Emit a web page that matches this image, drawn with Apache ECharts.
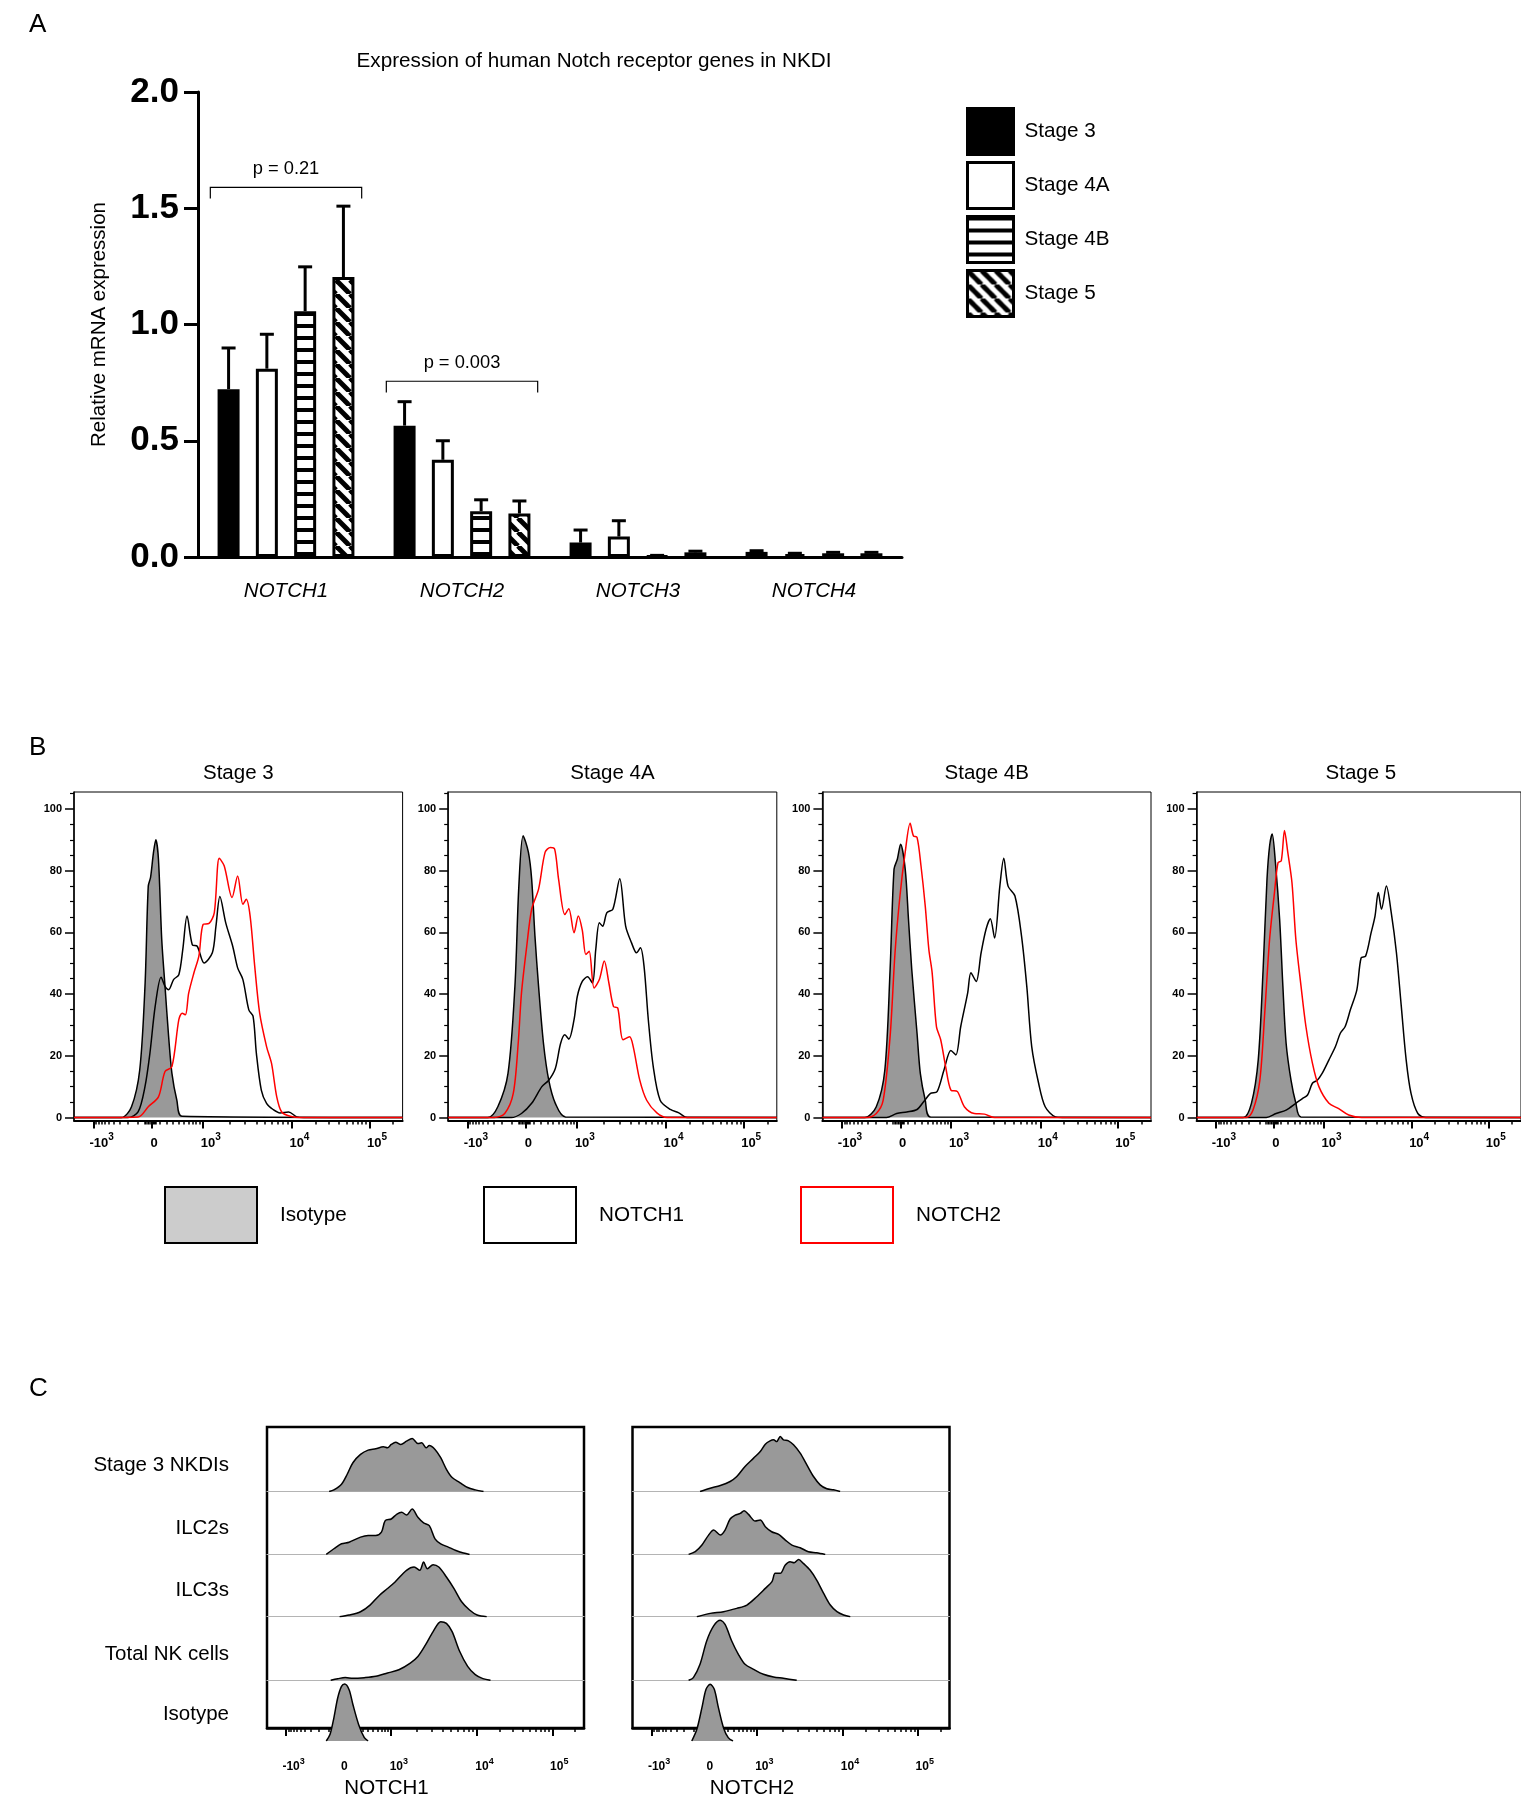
<!DOCTYPE html>
<html>
<head>
<meta charset="utf-8">
<script src="https://cdn.jsdelivr.net/npm/echarts@6/dist/echarts.min.js"></script>
<style>
  html, body { margin: 0; padding: 0; background: #fff; }
  #chart { width: 1521px; height: 1800px; }
</style>
</head>
<body>
<div id="chart"></div>
<script>
// ---- panel A : qPCR bars ----
const genes = ['NOTCH1', 'NOTCH2', 'NOTCH3', 'NOTCH4'];
const stages = ['Stage 3', 'Stage 4A', 'Stage 4B', 'Stage 5'];
const meanStage3 = [0.722, 0.565, 0.062, 0.022];
const meanStage4A = [0.81, 0.418, 0.088, 0.012];
const meanStage4B = [1.057, 0.197, 0.005, 0.016];
const meanStage5 = [1.204, 0.187, 0.02, 0.016];
const semStage3 = [0.177, 0.103, 0.054, 0.005];
const semStage4A = [0.148, 0.082, 0.068, 0.004];
const semStage4B = [0.191, 0.049, 0.002, 0.004];
const semStage5 = [0.305, 0.054, 0.005, 0.004];
const bracketGene = [0, 1];
const bracketY = [1.59, 0.756];
const bracketText = ['p = 0.21', 'p = 0.003'];

// ---- panels B/C : flow axis (display %, biexponential) ----
const xLabelText = [['-10', '3'], ['0', ''], ['10', '3'], ['10', '4'], ['10', '5']];
const xLabelPos = [8.4, 24.4, 41.6, 68.6, 92.2];
const majorTickVals = [-1000, 0, 1000, 10000, 100000];
const minorTickVals = [-900, -800, -700, -600, -500, -400, -300, -200, -100,
  -50, -40, -30, -20, -10, 10, 20, 30, 40, 50,
  100, 200, 300, 400, 500, 600, 700, 800, 900,
  2000, 3000, 4000, 5000, 6000, 7000, 8000, 9000,
  20000, 30000, 40000, 50000, 60000, 70000, 80000, 90000, 200000];
const yLabelVals = [0, 20, 40, 60, 80, 100];
const yMinorVals = [5, 10, 15, 25, 30, 35, 45, 50, 55, 65, 70, 75, 85, 90, 95, 105];

// ---- panel B : histograms [display %, % of max] ----
const isoStage3 = [[14.4,0],[17.5,3.5],[20.0,15.4],[21.6,42.5],[22.6,75],[23.3,77.8],[24.2,86],[24.9,90],[25.7,83.7],[26.7,57.7],[27.7,42.5],[28.8,26.2],[29.8,14.3],[31.3,5.6],[32.9,0.4]];
const n1Stage3 = [[16.4,0],[19.5,1.8],[21.6,10],[23.1,20.8],[24.7,36],[26.5,45.5],[27.7,42.5],[28.8,41.4],[30.3,44.7],[31.9,46.3],[33.1,54.4],[34.4,65.3],[36.0,56],[37.5,55.5],[39.6,50.1],[42.1,53.4],[43.2,62],[44.4,71.6],[46.2,63],[48.3,55.5],[49.8,48.5],[51.4,44.7],[53.2,34.9],[54.5,32.8],[55.5,20.8],[57.0,8.9],[58.6,4.6],[60.6,2.6],[62.7,1.5],[65.3,1.8],[67.8,0.2],[69.9,0]];
const n2Stage3 = [[19.5,0.2],[22.6,3.5],[25.7,6.7],[27.7,14.9],[29.8,16.5],[31.9,31.7],[32.9,33.8],[33.9,33.3],[34.9,40.3],[36.5,46.9],[38.0,52.3],[39.3,62.6],[41.1,62.9],[42.7,66.4],[44.2,84],[45.7,81.6],[48.1,71.3],[49.8,78.3],[51.4,69.1],[52.4,70.7],[53.6,65.3],[55.0,49],[56.5,33.8],[58.6,23],[60.1,17.6],[61.7,6.7],[63.2,1.8],[65.8,0.4],[68.9,0]];
const isoStage4A = [[12.0,0],[15.1,3.5],[18.2,14.3],[20.3,42.5],[21.5,75],[22.8,91.3],[24.4,86],[25.4,77.2],[26.4,58.8],[27.5,42.5],[29.0,24],[30.6,12.1],[32.6,4.6],[35.7,0.2]];
const n1Stage4A = [[19.2,0],[22.3,1.3],[25.4,4.6],[28.5,10],[30.6,12.1],[32.6,15.9],[34.2,24],[35.5,26.8],[36.7,25.4],[38.3,31.7],[39.3,39.3],[40.8,44.1],[42.4,45.6],[43.9,43.6],[44.9,54.4],[46.0,63.1],[47.0,62],[48.3,66.4],[50.1,67.5],[52.2,77.4],[54.0,62],[55.8,56.6],[57.3,53.4],[58.5,55],[59.6,49],[60.9,31.7],[62.4,16.5],[64.5,5.6],[67.6,2.6],[70.2,1.5],[72.7,0]];
const n2Stage4A = [[14.1,0],[17.2,1.3],[19.8,7.8],[21.3,24],[22.3,40.3],[23.9,55.5],[25.4,67.5],[27.5,74],[29.5,86],[31.1,87.5],[32.4,87],[33.6,77.2],[35.5,65.8],[36.7,67.7],[38.3,59.9],[39.6,65.3],[40.8,60.7],[41.9,52.8],[42.9,53.9],[44.4,42],[46.0,44.7],[47.5,50.7],[48.9,43.6],[50.3,36],[51.6,35.5],[53.2,25.2],[55.2,26.2],[56.3,23],[58.3,12.1],[60.4,5.6],[63.5,1.5],[66.6,0]];
const isoStage4B = [[12.8,0],[16.4,3.5],[19.0,15.4],[20.6,47.9],[21.8,80.5],[22.8,83.7],[23.8,88.6],[25.2,80.5],[26.2,64.2],[27.2,47.9],[28.8,27.3],[29.8,14.3],[31.3,5.6],[32.9,0.2]];
const n1Stage4B = [[19.5,0],[22.6,1.3],[25.7,1.8],[28.8,2.6],[30.8,5.1],[32.9,7.8],[34.9,8.4],[37.0,15.4],[39.1,21.7],[40.6,20.3],[42.1,29.5],[44.2,40.3],[45.2,46.9],[46.8,44.1],[48.3,53.4],[49.8,61],[51.1,64.4],[52.4,58.2],[54.0,75],[55.2,84],[56.5,75],[58.6,71.8],[60.6,58.8],[62.2,42.5],[63.7,23],[65.8,11.1],[67.8,3.5],[70.9,0.2],[73.0,0]];
const n2Stage4B = [[13.4,0],[16.4,1.3],[18.5,5.6],[20.6,26.2],[22.1,53.4],[23.6,71.8],[25.2,86],[26.7,95.4],[27.7,91.3],[28.8,90.8],[30.0,81.6],[31.3,68.5],[32.4,54.4],[33.4,46.9],[34.7,29.5],[36.0,25.2],[37.5,16.5],[39.1,8.9],[41.1,8.4],[43.2,3.5],[46.2,1.3],[49.3,1.1],[52.4,0]];
const isoStage5 = [[14.4,0],[16.9,4.6],[19.0,18.7],[20.5,47.9],[21.7,77.2],[22.5,88],[23.3,91.9],[24.3,82.6],[25.6,64.2],[26.6,42.5],[27.6,24],[29.1,12.1],[30.6,4.6],[32.2,0.2]];
const n1Stage5 = [[21.5,0],[24.5,1.3],[27.6,2.4],[30.6,4.6],[32.7,6.2],[34.2,7.3],[35.7,11.1],[37.2,12.1],[38.7,14.3],[40.8,18.7],[42.8,23],[44.3,27.3],[45.8,29.5],[47.4,34.9],[49.4,41.4],[50.7,51.7],[52.1,52.3],[53.8,59.9],[55.0,65.3],[56.0,72.9],[57.0,67.5],[58.5,75],[60.0,66.4],[61.6,53.4],[63.1,36],[64.6,18.7],[66.1,7.8],[68.2,1.3],[70.7,0]];
const n2Stage5 = [[15.4,0],[17.4,2.4],[19.5,12.1],[21.0,33.8],[22.5,57.7],[24.0,72.9],[25.1,82.6],[26.1,83.2],[27.1,93],[28.1,86],[29.4,76.1],[30.6,57.7],[32.2,42.5],[33.7,29.5],[35.7,17.6],[37.7,10],[40.8,4.6],[43.8,2.9],[46.9,0.8],[50.9,0]];

// ---- panel C : stacked histograms ----
const rowLabels = ['Stage 3 NKDIs', 'ILC2s', 'ILC3s', 'Total NK cells', 'Isotype'];
const c1Stage3 = [[19.6,0],[21.1,2.6],[23.5,11.6],[25.3,27.5],[27.1,45.9],[29.5,59.1],[31.9,66],[34.3,68.1],[36.7,71.3],[38.0,69.7],[39.2,75],[40.6,78.7],[42.2,75],[44.0,80.3],[45.8,84.5],[47.6,76.6],[48.8,77.6],[50.2,69.7],[51.2,73.4],[53.0,67.1],[54.8,53.9],[56.6,35.4],[58.4,22.2],[60.8,14.3],[63.3,6.3],[65.7,2.6],[68.3,0]];
const c1ILC2 = [[18.7,0],[21.1,9],[23.5,16.9],[25.9,19.5],[29.5,27.5],[31.9,30.1],[34.3,30.1],[36.1,35.4],[37.3,53.9],[39.2,56.5],[41.0,64.4],[42.5,67.1],[44.0,62.8],[45.8,72.3],[47.6,59.1],[49.4,50.2],[51.2,45.9],[53.0,24.8],[54.8,16.9],[57.2,11.6],[59.6,6.3],[62.0,2.1],[63.9,0]];
const c1ILC3 = [[22.9,0],[25.9,2.6],[29.5,7.9],[32.5,18.5],[35.5,34.3],[38.0,44.9],[40.4,55.4],[44.0,73.9],[46.4,79.2],[48.2,73.9],[49.4,87.1],[50.6,76.6],[52.4,82.9],[54.2,79.2],[56.6,63.4],[59.0,44.9],[61.4,23.8],[63.9,10.6],[66.3,2.6],[69.3,0]];
const c1NK = [[20.1,0],[22.3,2.5],[24.7,4.5],[27.1,3.2],[30.7,4.2],[34.3,6.3],[38.0,11.6],[41.6,16.9],[45.2,27.5],[47.6,38],[50.0,56.5],[52.4,77.6],[54.8,93.5],[56.6,90.8],[58.4,77.6],[60.8,45.9],[63.3,22.2],[65.7,9],[68.1,2.6],[70.5,0]];
const c1Iso = [[18.7,0],[19.9,10.6],[21.1,37],[22.3,68.6],[23.5,87.1],[24.5,90.8],[25.9,81.8],[27.1,58.1],[28.9,26.4],[30.7,5.3],[31.9,0]];
const c2Stage3 = [[21.3,0],[24.5,5.3],[27.7,9.6],[30.8,16],[32.9,23.9],[35.5,39.9],[38.2,53.2],[40.3,63.8],[41.9,75.5],[43.4,80.8],[44.5,82.4],[45.5,79.7],[46.6,87.7],[47.6,82.4],[49.2,80.8],[50.8,74.4],[52.9,61.1],[55.0,42.5],[57.1,23.9],[59.2,10.6],[61.3,4.3],[63.4,2.7],[65.5,0]];
const c2ILC2 = [[17.7,0],[19.8,4.3],[21.9,14.9],[24.0,30.8],[25.6,38.8],[27.7,30.8],[29.2,38.8],[30.8,56.4],[32.4,62.7],[34.0,65.4],[35.2,69.6],[36.6,63.8],[38.7,53.2],[40.3,54.8],[41.9,44.1],[43.9,36.1],[46.1,31.9],[48.2,22.9],[50.3,14.9],[52.9,10.6],[55.5,4.3],[58.1,2.7],[60.8,0]];
const c2ILC3 = [[20.3,0],[24.5,5.3],[28.7,8],[32.9,13.3],[36.1,18.6],[39.2,31.9],[41.9,45.2],[44.0,55.8],[45.0,69.1],[46.6,69.1],[48.2,82.4],[49.7,87.7],[51.0,86],[52.4,91.3],[53.9,85],[56.0,74.4],[58.1,58.5],[60.3,37.2],[62.4,18.6],[64.5,8],[66.6,2.7],[68.7,0]];
const c2NK = [[17.7,0],[19.2,4.3],[21.3,25.5],[23.4,62.7],[25.6,86.7],[27.7,95.7],[29.2,89.3],[31.3,62.7],[33.4,41.5],[35.5,25.5],[38.2,17.5],[41.3,9.6],[44.5,5.3],[47.6,3.2],[51.8,0]];
const c2Iso = [[18.7,0],[20.3,18.6],[21.9,53.2],[23.2,82.4],[24.5,90.4],[25.8,82.4],[27.1,53.2],[28.7,21.3],[30.2,5.3],[31.7,0]];

const FONT = '"Liberation Sans", Arial, sans-serif';
const chart = echarts.init(document.getElementById('chart'));

// where a fluorescence value sits on the display axis (for tick marks only)
const scaleAnchors = [[-1000, 6.0], [0, 23.7], [1000, 39.1], [10000, 66.3], [100000, 90.0]];
function scalePos(v) {
  if (v >= 1000) {
    const d = Math.log10(v);
    const i = Math.min(Math.floor(d) - 3, 1);
    const a = scaleAnchors[2 + i], b = scaleAnchors[3 + i];
    return a[1] + (b[1] - a[1]) * (d - Math.log10(a[0])) / (Math.log10(b[0]) - Math.log10(a[0]));
  }
  const w = v >= 0 ? 400 : 150;
  const span = v >= 0 ? 39.1 - 23.7 : 23.7 - 6.0;
  return 23.7 + Math.sign(v) * span * Math.asinh(Math.abs(v) / w) / Math.asinh(1000 / w);
}

// bar fills
function pattern(diag) {
  const s = diag ? 14 : 12;
  const c = document.createElement('canvas');
  c.width = s; c.height = s;
  const g = c.getContext('2d');
  g.fillStyle = '#fff';
  g.fillRect(0, 0, s, s);
  if (!diag) {
    g.fillStyle = '#000';
    g.fillRect(0, 0, s, 4);
  } else {
    g.strokeStyle = '#000';
    g.lineWidth = 5;
    [-s, 0, s].forEach(k => { g.beginPath(); g.moveTo(k, 0); g.lineTo(k + s, s); g.stroke(); });
  }
  return { image: c, repeat: 'repeat' };
}
const barFills = ['#000', '#fff', pattern(false), pattern(true)];
const means = [meanStage3, meanStage4A, meanStage4B, meanStage5];
const sems = [semStage3, semStage4A, semStage4B, semStage5];
const barW = 22, barGapRatio = 0.74;
const barPitch = barW * (1 + barGapRatio);

const grids = [], xAxes = [], yAxes = [], series = [], titles = [];

// ---------- A ----------
grids.push({ left: 198, top: 92, width: 704, height: 465 });
xAxes.push({
  type: 'category', gridIndex: 0, data: genes,
  axisLine: { lineStyle: { color: '#000', width: 3 } },
  axisTick: { alignWithLabel: true, length: 14, lineStyle: { color: '#000', width: 3 } },
  axisLabel: { margin: 24, fontSize: 20.5, fontStyle: 'italic', color: '#000', fontFamily: FONT }
});
yAxes.push({
  type: 'value', gridIndex: 0, min: 0, max: 2, interval: 0.5,
  name: 'Relative mRNA expression', nameLocation: 'middle', nameGap: 88,
  nameTextStyle: { fontSize: 20.5, color: '#000', fontFamily: FONT },
  axisLine: { show: true, lineStyle: { color: '#000', width: 3 } },
  axisTick: { show: true, length: 14, lineStyle: { color: '#000', width: 3 } },
  axisLabel: { formatter: v => v.toFixed(1), fontSize: 35, fontWeight: 'bold', color: '#000', margin: 19, fontFamily: FONT },
  splitLine: { show: false }
});
stages.forEach((st, i) => {
  series.push({
    type: 'bar', name: st, xAxisIndex: 0, yAxisIndex: 0, data: means[i],
    barWidth: barW, barGap: (barGapRatio * 100) + '%',
    itemStyle: { color: barFills[i], borderColor: '#000', borderWidth: 3 },
    emphasis: { disabled: true }
  });
  series.push({
    type: 'custom', name: 'sem ' + st, xAxisIndex: 0, yAxisIndex: 0,
    data: genes.map((g, j) => [j, means[i][j], means[i][j] + sems[i][j]]),
    z: 3,
    renderItem: (params, api) => {
      const base = api.coord([api.value(0), api.value(1)]);
      const top = api.coord([api.value(0), api.value(2)]);
      const x = base[0] + (i - 1.5) * barPitch;
      return {
        type: 'group', children: [
          { type: 'line', shape: { x1: x, y1: base[1], x2: x, y2: top[1] }, style: { stroke: '#000', lineWidth: 3 } },
          { type: 'line', shape: { x1: x - 7, y1: top[1], x2: x + 7, y2: top[1] }, style: { stroke: '#000', lineWidth: 3 } }
        ]
      };
    }
  });
});
series.push({
  type: 'custom', name: 'brackets', xAxisIndex: 0, yAxisIndex: 0,
  data: bracketGene.map((g, k) => [g, bracketY[k], k]),
  renderItem: (params, api) => {
    const c = api.coord([api.value(0), api.value(1)]);
    const half = api.size([1, 0])[0] * 0.43;
    const drop = api.size([0, 0.048])[1];
    return {
      type: 'group', children: [
        { type: 'polyline', shape: { points: [[c[0] - half, c[1] + drop], [c[0] - half, c[1]], [c[0] + half, c[1]], [c[0] + half, c[1] + drop]] },
          style: { stroke: '#000', lineWidth: 1.2, fill: null } },
        { type: 'text', style: { text: bracketText[api.value(2)], x: c[0], y: c[1] - 9, textAlign: 'center', textVerticalAlign: 'bottom',
          font: '18.3px ' + FONT, fill: '#000' } }
      ]
    };
  }
});

// ---------- shared flow axes ----------
function tickRich(size) {
  return {
    b: { fontSize: size, fontWeight: 'bold', lineHeight: size + 2, verticalAlign: 'bottom', color: '#000', fontFamily: FONT },
    s: { fontSize: size - 3, fontWeight: 'bold', lineHeight: size - 2, padding: [0, 0, 7, 0], verticalAlign: 'bottom', color: '#000', fontFamily: FONT }
  };
}
function fmtTick(v) {
  const t = xLabelText[xLabelPos.indexOf(v)];
  return t[1] ? '{b|' + t[0] + '}{s|' + t[1] + '}' : '{b|' + t[0] + '}';
}
function flowXAxes(gi, size, lineW, padTop, extra) {
  xAxes.push(Object.assign({
    type: 'value', gridIndex: gi, min: 0, max: 100, position: 'bottom',
    axisLine: { show: true, onZero: false, lineStyle: { color: '#000', width: lineW } },
    axisTick: { show: true, customValues: majorTickVals.map(scalePos), length: 8, lineStyle: { color: '#000', width: 2 } },
    axisLabel: { customValues: xLabelPos, formatter: fmtTick, margin: 10, padding: [padTop, 0, 0, 0], rich: tickRich(size) },
    splitLine: { show: false }
  }, extra || {}));
  xAxes.push({
    type: 'value', gridIndex: gi, min: 0, max: 100, position: 'bottom',
    axisLine: { show: false, onZero: false },
    axisTick: { show: true, customValues: minorTickVals.map(scalePos), length: 4, lineStyle: { color: '#000', width: 1.5 } },
    axisLabel: { show: false }, splitLine: { show: false }
  });
}

// ---------- B ----------
const histIso = [isoStage3, isoStage4A, isoStage4B, isoStage5];
const histN1 = [n1Stage3, n1Stage4A, n1Stage4B, n1Stage5];
const histN2 = [n2Stage3, n2Stage4A, n2Stage4B, n2Stage5];
const withBaseline = pts => [[0, 0]].concat(pts, [[100, 0]]);
stages.forEach((st, k) => {
  const left = 74 + k * 374.2;
  const gi = grids.length;
  grids.push({ left: left, top: 792, width: 328.6, height: 328.6, show: true, borderColor: '#000', borderWidth: 1 });
  titles.push({ text: st, left: left + 164.3, top: 763, textAlign: 'center', padding: 0,
    textStyle: { fontSize: 20.5, fontWeight: 'normal', color: '#000', fontFamily: FONT } });
  const xi = xAxes.length;
  flowXAxes(gi, 13, 2, 4);
  const yi = yAxes.length;
  yAxes.push({
    type: 'value', gridIndex: gi, min: -1, max: 105.5, position: 'left',
    axisLine: { show: true, onZero: false, lineStyle: { color: '#000', width: 1.5 } },
    axisTick: { show: true, customValues: yLabelVals, length: 9, lineStyle: { color: '#000', width: 1.5 } },
    axisLabel: { customValues: yLabelVals, fontSize: 11, fontWeight: 'bold', color: '#000', margin: 12, fontFamily: FONT },
    splitLine: { show: false }
  });
  yAxes.push({
    type: 'value', gridIndex: gi, min: -1, max: 105.5, position: 'left',
    axisLine: { show: false, onZero: false },
    axisTick: { show: true, customValues: yMinorVals, length: 4, lineStyle: { color: '#000', width: 1.2 } },
    axisLabel: { show: false }, splitLine: { show: false }
  });
  const common = { type: 'line', xAxisIndex: xi, yAxisIndex: yi, symbol: 'none', smooth: 0.3, animation: false };
  series.push(Object.assign({ name: 'Isotype', data: withBaseline(histIso[k]),
    lineStyle: { color: '#000', width: 1.5 }, itemStyle: { color: '#999' }, areaStyle: { color: '#999', opacity: 1 } }, common));
  series.push(Object.assign({ name: 'NOTCH1', data: withBaseline(histN1[k]),
    lineStyle: { color: '#000', width: 1.5 }, itemStyle: { color: '#000' } }, common));
  series.push(Object.assign({ name: 'NOTCH2', data: withBaseline(histN2[k]),
    lineStyle: { color: '#ff0000', width: 1.5 }, itemStyle: { color: '#ff0000' } }, common));
});

// ---------- C ----------
const cPanels = [
  { gene: 'NOTCH1', left: 267, rows: [c1Stage3, c1ILC2, c1ILC3, c1NK, c1Iso], labels: true },
  { gene: 'NOTCH2', left: 632.5, rows: [c2Stage3, c2ILC2, c2ILC3, c2NK, c2Iso], labels: false }
];
const rowBase = [1491.5, 1554.4, 1616.7, 1680.3, 1741];
const rowH = 62.7;
cPanels.forEach(p => {
  const gi = grids.length;
  grids.push({ left: p.left, top: 1427, width: 317, height: 314, show: true, borderColor: '#000', borderWidth: 2.5 });
  flowXAxes(gi, 12, 2.5, 21, {
    name: p.gene, nameLocation: 'middle', nameGap: 50,
    nameTextStyle: { fontSize: 20.5, color: '#000', fontFamily: FONT, padding: [0, 78, 0, 0] }
  });
  yAxes.push({ type: 'value', gridIndex: gi, min: 0, max: 100, show: false });
  p.rows.forEach((row, r) => {
    const ri = grids.length;
    grids.push({ left: p.left, top: rowBase[r] - rowH, width: 317, height: rowH });
    const xi = xAxes.length;
    xAxes.push({
      type: 'value', gridIndex: ri, min: 0, max: 100,
      axisLine: { show: r < 4, onZero: false, lineStyle: { color: '#b4b4b4', width: 1.2 } },
      axisTick: { show: false }, axisLabel: { show: false }, splitLine: { show: false }
    });
    const yi = yAxes.length;
    yAxes.push({
      type: 'value', gridIndex: ri, min: 0, max: 100,
      name: p.labels ? rowLabels[r] : '', nameLocation: 'middle', nameRotate: 0, nameGap: 38,
      nameTextStyle: { fontSize: 20.5, color: '#000', align: 'right', verticalAlign: 'top', lineHeight: 10, fontFamily: FONT },
      axisLine: { show: false }, axisTick: { show: false }, axisLabel: { show: false }, splitLine: { show: false }
    });
    series.push({
      type: 'line', name: p.gene + ' ' + rowLabels[r], xAxisIndex: xi, yAxisIndex: yi, data: row,
      symbol: 'none', smooth: 0.3, z: 4,
      lineStyle: { color: '#000', width: 1.5 }, itemStyle: { color: '#999' }, areaStyle: { color: '#999', opacity: 1 }
    });
  });
});

// panel letters and title
const letter = (t, top) => ({ text: t, left: 29, top: top, padding: 0, textStyle: { fontSize: 26, fontWeight: 'normal', color: '#000', fontFamily: FONT } });
titles.push(letter('A', 12), letter('B', 735), letter('C', 1376));
titles.push({ text: 'Expression of human Notch receptor genes in NKDI', left: 594, top: 51, textAlign: 'center', padding: 0,
  textStyle: { fontSize: 20.7, fontWeight: 'normal', color: '#000', fontFamily: FONT } });

const legendB = (name, left, fill, border) => ({
  left: left, top: 1186, padding: 0, itemWidth: 92, itemHeight: 56, selectedMode: false,
  data: [{ name: name, icon: 'rect', itemStyle: { color: fill, borderColor: border, borderWidth: 2 } }],
  textStyle: { fontSize: 20.7, color: '#000', fontFamily: FONT, padding: [0, 0, 0, 18] }
});

chart.setOption({
  animation: false,
  textStyle: { fontFamily: FONT },
  title: titles,
  legend: [
    { left: 966, top: 107, orient: 'vertical', padding: 0, itemWidth: 46, itemHeight: 46, itemGap: 5, selectedMode: false,
      icon: 'rect', data: stages, itemStyle: { borderColor: '#000', borderWidth: 3 },
      textStyle: { fontSize: 20.7, color: '#000', fontFamily: FONT, padding: [0, 0, 0, 6] } },
    legendB('Isotype', 164, '#cccccc', '#000'),
    legendB('NOTCH1', 483, '#ffffff', '#000'),
    legendB('NOTCH2', 800, '#ffffff', '#ff0000')
  ],
  grid: grids,
  xAxis: xAxes,
  yAxis: yAxes,
  series: series
});
</script>
</body>
</html>
